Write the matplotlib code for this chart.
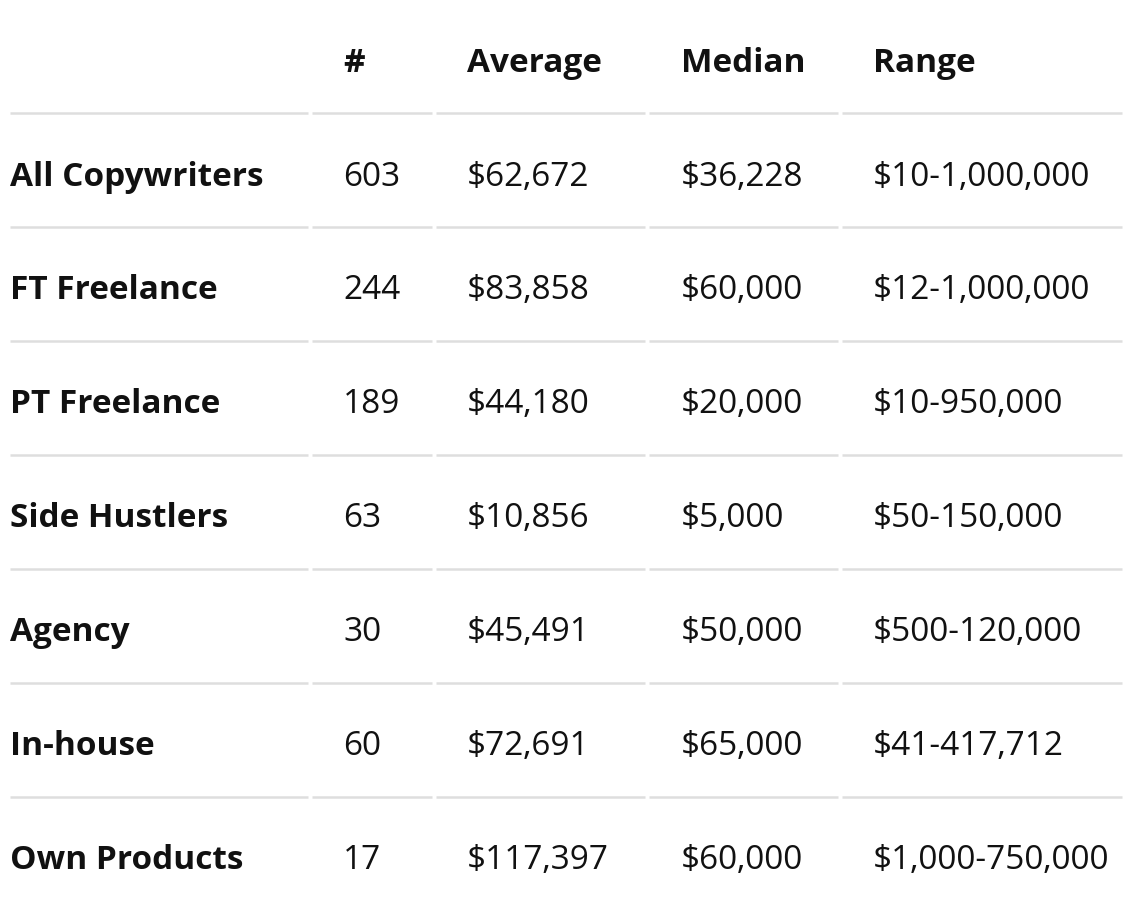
import matplotlib
matplotlib.use("Agg")
import matplotlib.pyplot as plt

headers = ["", "#", "Average", "Median", "Range"]
categories = ["All Copywriters", "FT Freelance", "PT Freelance", "Side Hustlers", "Agency", "In-house", "Own Products"]
counts = ["603", "244", "189", "63", "30", "60", "17"]
averages = ["$62,672", "$83,858", "$44,180", "$10,856", "$45,491", "$72,691", "$117,397"]
medians = ["$36,228", "$60,000", "$20,000", "$5,000", "$50,000", "$65,000", "$60,000"]
ranges = ["$10-1,000,000", "$12-1,000,000", "$10-950,000", "$50-150,000", "$500-120,000", "$41-417,712", "$1,000-750,000"]

W, H = 1126, 904
fig = plt.figure(figsize=(W/100, H/100), dpi=100)
ax = fig.add_axes([0, 0, 1, 1])
ax.set_xlim(0, W); ax.set_ylim(H, 0); ax.axis("off")

font = "Open Sans"
col_x = [10, 343, 467, 681, 873]
segs = [(10, 308), (312, 432), (436, 645), (649, 838), (842, 1122)]
fs = 24

for x, h in zip(col_x, headers):
    ax.text(x, 63, h, fontsize=fs, fontweight="bold", family=font, va="center", ha="left", color="#111111")

row_h = 114
for i, cat in enumerate(categories):
    yline = 114 + i*row_h
    for a, b in segs:
        ax.plot([a, b], [yline, yline], color="#dedede", lw=1.8, solid_capstyle="butt")
    yc = yline + 63
    vals = [cat, counts[i], averages[i], medians[i], ranges[i]]
    for j, (x, v) in enumerate(zip(col_x, vals)):
        ax.text(x, yc, v, fontsize=fs, fontweight="bold" if j == 0 else "normal",
                family=font, va="center", ha="left", color="#111111")

fig.savefig("out.png", dpi=100, facecolor="white")
